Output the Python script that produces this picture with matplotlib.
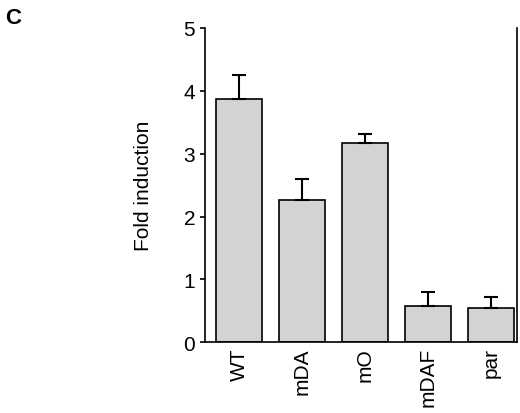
import numpy as np
import matplotlib.pyplot as plt

labels = ['WT', 'mDA', 'mO', 'mDAF', 'par']
values = [3.87, 2.27, 3.17, 0.58, 0.55]
errors = [0.38, 0.33, 0.15, 0.22, 0.17]

plt.rcParams['font.family'] = 'Liberation Sans'
fig = plt.figure(figsize=(5.2, 4.14), dpi=100)
ax = fig.add_axes([0.394, 0.171, 0.6, 0.759])

x = np.arange(len(labels))
ax.bar(x, values, width=0.73, color='#d3d3d3', edgecolor='black', linewidth=1.2)
ax.errorbar(x, values, yerr=[np.zeros(len(errors)), errors], fmt='none',
            ecolor='black', elinewidth=1.5, capsize=5, capthick=1.5)

ax.set_xlim(-0.54, 4.41)
ax.set_ylim(0, 5)
ax.set_yticks(range(6))
ax.set_xticks(x, labels, rotation=90)
ax.tick_params(labelsize=15, width=1.2)
ax.tick_params(axis='x', length=0)
ax.spines['top'].set_visible(False)
for s in ['left', 'right', 'bottom']:
    ax.spines[s].set_linewidth(1.2)
ax.set_ylabel('Fold induction', fontsize=15, labelpad=22)

fig.text(0.01, 0.955, 'C', fontsize=16, fontweight='bold', va='center')

plt.savefig('out.png', dpi=100)
